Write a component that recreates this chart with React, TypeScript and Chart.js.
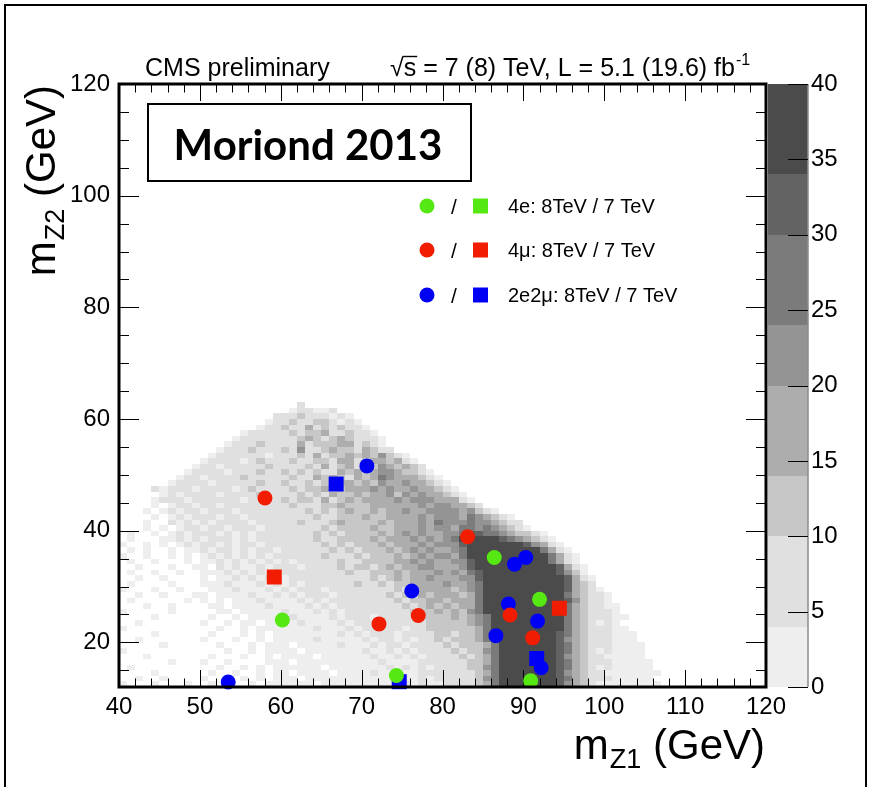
import { useEffect, useRef } from 'react';
import { Chart, registerables } from 'chart.js';

Chart.register(...registerables);

const FONT = '"Liberation Sans", Arial, Helvetica, sans-serif';

type Pt = { x: number; y: number };

// Axis ranges (GeV) and colour-scale range (events / bin)
const xRange = [40, 120];
const yRange = [12, 120];
const zRange = [0, 40];
const xTickValues = [40, 50, 60, 70, 80, 90, 100, 110, 120];
const yTickValues = [20, 40, 60, 80, 100, 120];
const zTickValues = [0, 5, 10, 15, 20, 25, 30, 35, 40];

// Contour bands of the expected-signal histogram and their grey levels
const contourEdges = [0, 4, 10, 14, 20, 24, 30, 34, 40];
const contourGrays = ['#eeeeee', '#e0e0e0', '#c7c7c7', '#adadad', '#949494', '#7b7b7b', '#636363', '#4b4b4b'];

// 1 GeV x 1 GeV bins. Each row: [lower m_Z2 edge, band index per m_Z1 bin from 40 GeV].
// Groups of ten bins (40-49, 50-59, ...) are separated by spaces; '.' = empty bin.
const binX0 = 40;
const binSize = 1;
const binRows: Array<[number, string]> = [
  [62, '.......... .......... ..2....... .......... .......... .......... ........'],
  [61, '.......... .......... .122112... .......... .......... .......... ........'],
  [60, '.......... .........2 223222121. .......... .......... .......... ........'],
  [59, '.......... ........12 2322332121 .......... .......... .......... ........'],
  [58, '.......... .......122 3224232322 1......... .......... .......... ........'],
  [57, '.......... .....12222 2323342232 21........ .......... .......... ........'],
  [56, '.......... ....122222 2234323432 221....... .......... .......... ........'],
  [55, '.......... ...1222322 2242333442 321....... .......... .......... ........'],
  [54, '.......... ..12223222 3252234332 4322...... .......... .......... ........'],
  [53, '.......... .122222212 2232423343 435321.... .......... .......... ........'],
  [52, '.......... 1222212322 2322332442 3443421... .......... .......... ........'],
  [51, '.........1 2212222232 2223242342 43543432.. .......... .......... ........'],
  [50, '........12 2221222322 3232322434 345543321. .......... .......... ........'],
  [49, '.......122 1222232222 2322434324 3465444321 .......... .......... ........'],
  [48, '......1222 2122222322 3223233443 4354454432 1......... .......... ........'],
  [47, '....212221 2222123222 2323342344 4545445443 21........ .......... ........'],
  [46, '.....12122 2212222322 2232324334 3445354544 321....... .......... ........'],
  [45, '....122212 2222212222 3233242343 4444545554 4421...... .......... ........'],
  [44, '....1.1221 2212222222 2322233433 3444444545 54432..... .......... ........'],
  [43, '...1.12122 1222122222 2223232343 3434454455 5545321... .......... ........'],
  [42, '....1.1212 2212212222 2222322333 4334444545 554654321. .......... ........'],
  [41, '...1..2121 2122221222 2232223433 3343444546 5556554322 .......... ........'],
  [40, '...1.1.122 1221222122 2222232333 3433444545 5466565432 1......... ........'],
  [39, '.1..1.1212 2212121222 2222323233 3343454544 5567766543 321....... ........'],
  [38, '.1...11212 1222121222 2222322333 3434445454 5688888765 4321...... ........'],
  [37, '1..1.1.121 2212122122 2222232323 3343444545 5578888888 75421..... ........'],
  [36, '.1.1..1.11 2122121221 2222223232 3334345454 4568888888 886421.... ........'],
  [35, '1..1..1.1. 1212121212 2222232223 2333434545 5468888888 8886421... ........'],
  [34, '.1..1...1. 1121212121 2122222322 3333445454 4557888888 8886421... ........'],
  [33, '..1...1..1 1.21211212 2212222323 3234344554 4457888888 88887421.. ........'],
  [32, '.1..1..1.. 1112121212 2222222232 2333434445 4546788888 88887531.. ........'],
  [31, '..1..1.... 1.11212121 1222222222 2323434454 4455788888 888887421. ........'],
  [30, '.1....1... 1112111212 1212222223 2232334444 5445688888 888887432. ........'],
  [29, '1...1..1.. .111211121 2122212222 2222323444 4345688888 8888874321 ........'],
  [28, '..1..1...1 1.11112112 1212221222 2223232434 4434688888 8888864322 1.......'],
  [27, '.1......1. 1.1.111211 1121212222 2222323344 3444688888 8888875322 1.......'],
  [26, '...1..1... .11.111121 1112121222 2222232343 4344688888 8888864322 11......'],
  [25, '1.....1... ..11.11111 2111212122 2222223334 3435688888 8888864322 21......'],
  [24, '....1..... .1..1.1111 1211112122 2122222333 3434568888 8888864322 211.....'],
  [23, '..1....... 1..1.11.11 1121111212 2212222233 3334568888 8888864321 21......'],
  [22, '1......... ..1..1.111 1111211121 2222212233 3333468888 8888864322 211.....'],
  [21, '....1..... .1...1.1.1 1111111212 1222122223 3233468888 8888764322 2111....'],
  [20, '..1....... 1...1..1.1 1111211111 2122121223 2333468888 8888754322 2111....'],
  [19, '.....1.... ..1...1.11 1.11111211 1212212222 3233346888 8888764322 21111...'],
  [18, '1......... ...1..1.11 11.1111111 2112121222 2323356888 8888764321 21111...'],
  [17, '...1...... .1...1..1. 1111.11111 1211212122 2232346888 8888754322 11111...'],
  [16, '......1... 1..1....11 1.11111111 1121111222 2223346888 8888764322 211111..'],
  [15, '.1........ ..1..1.1.1 11111.1111 1112121212 2223356888 8888764321 211111..'],
  [14, '....1..... .1..1..1.1 1.1111.111 1211111222 2222346888 8888754322 1111111.'],
  [13, '..1..1.... 1..1.1.1.1 11.1111111 1111211212 2222356888 8888764322 211111..'],
  [12, '1...1...1. .1.1..1.11 1111.11111 1111121211 2222346888 8888754321 1111111.'],
];

// Observed candidates (m_Z1, m_Z2) in GeV
const fourE8TeV: Pt[] = [
  { x: 86.4, y: 35.2 }, { x: 92.0, y: 27.7 }, { x: 60.2, y: 24.0 }, { x: 74.3, y: 14.05 }, { x: 90.9, y: 13.1 },
];
const fourE7TeV: Pt[] = [];
const fourMu8TeV: Pt[] = [
  { x: 58.05, y: 45.85 }, { x: 83.1, y: 38.9 }, { x: 72.15, y: 23.3 }, { x: 77.0, y: 24.8 }, { x: 88.35, y: 24.9 }, { x: 91.15, y: 20.8 },
];
const fourMu7TeV: Pt[] = [
  { x: 59.2, y: 31.7 }, { x: 94.45, y: 26.1 },
];
const twoETwoMu8TeV: Pt[] = [
  { x: 53.5, y: 12.9 }, { x: 70.65, y: 51.6 }, { x: 76.2, y: 29.2 }, { x: 88.9, y: 34.0 }, { x: 90.3, y: 35.2 },
  { x: 88.15, y: 26.85 }, { x: 86.6, y: 21.2 }, { x: 91.75, y: 23.8 }, { x: 92.2, y: 15.45 },
];
const twoETwoMu7TeV: Pt[] = [
  { x: 66.85, y: 48.35 }, { x: 74.65, y: 12.95 }, { x: 91.65, y: 17.1 },
];

const GREEN = '#55e813';
const RED = '#f21d00';
const BLUE = '#0000f4';

const legendRows = [
  { color: GREEN, label: '4e: 8TeV / 7 TeV' },
  { color: RED, label: '4\u03bc: 8TeV / 7 TeV' },
  { color: BLUE, label: '2e2\u03bc: 8TeV / 7 TeV' },
];

const CIRCLE_R = 7.5;
const SQUARE_R = 10.6; // Chart.js 'rect' side = 2 * r * SQRT1_2

function drawSubscripted(ctx: CanvasRenderingContext2D, main: string, sub: string, tail: string, big: number, small: number, x: number, y: number, drop: number) {
  ctx.font = `${big}px ${FONT}`;
  ctx.fillText(main, x, y);
  let cx = x + ctx.measureText(main).width + 1;
  ctx.font = `${small}px ${FONT}`;
  ctx.fillText(sub, cx, y + drop);
  cx += ctx.measureText(sub).width;
  ctx.font = `${big}px ${FONT}`;
  ctx.fillText(tail, cx, y);
}

function subscriptedWidth(ctx: CanvasRenderingContext2D, main: string, sub: string, tail: string, big: number, small: number) {
  ctx.font = `${big}px ${FONT}`;
  let w = ctx.measureText(main).width + ctx.measureText(tail).width + 1;
  ctx.font = `${small}px ${FONT}`;
  w += ctx.measureText(sub).width;
  return w;
}

const histPlugin = {
  id: 'zzHistogram',
  beforeDatasetsDraw(chart: any) {
    const { ctx, chartArea: a, scales } = chart;
    const xs = scales.x;
    const ys = scales.y;
    ctx.save();
    ctx.beginPath();
    ctx.rect(a.left, a.top, a.right - a.left, a.bottom - a.top);
    ctx.clip();
    for (const [yLow, row] of binRows) {
      const top = Math.round(ys.getPixelForValue(yLow + binSize));
      const bot = Math.round(ys.getPixelForValue(yLow));
      row.split(' ').forEach((grp, gi) => {
        for (let j = 0; j < grp.length; j++) {
          const c = grp[j];
          if (c === '.') continue;
          const xLow = binX0 + gi * 10 + j;
          const l = Math.round(xs.getPixelForValue(xLow));
          const r = Math.round(xs.getPixelForValue(xLow + binSize));
          ctx.fillStyle = contourGrays[Number(c) - 1];
          ctx.fillRect(l, top, r - l, bot - top);
        }
      });
    }
    // inward tick marks on all four sides
    ctx.strokeStyle = '#000';
    ctx.lineWidth = 1;
    ctx.beginPath();
    for (let v = xRange[0]; v <= xRange[1]; v += 2) {
      const len = v % 10 === 0 ? 17 : 8.5;
      const px = Math.round(xs.getPixelForValue(v)) + 0.5;
      ctx.moveTo(px, a.bottom); ctx.lineTo(px, a.bottom - len);
      ctx.moveTo(px, a.top); ctx.lineTo(px, a.top + len);
    }
    for (let v = 15; v <= yRange[1]; v += 5) {
      const len = v % 20 === 0 ? 20 : 10;
      const py = Math.round(ys.getPixelForValue(v)) + 0.5;
      ctx.moveTo(a.left, py); ctx.lineTo(a.left + len, py);
      ctx.moveTo(a.right, py); ctx.lineTo(a.right - len, py);
    }
    ctx.stroke();
    ctx.restore();
  },
  afterDatasetsDraw(chart: any) {
    const { ctx, chartArea: a, scales } = chart;
    const zs = scales.z;
    ctx.save();

    // plot frame
    ctx.strokeStyle = '#000';
    ctx.lineWidth = 3;
    ctx.strokeRect(a.left, a.top, a.right - a.left, a.bottom - a.top);

    // colour scale
    const cbL = a.right + 2;
    const cbR = a.right + 42;
    for (let i = 0; i < contourGrays.length; i++) {
      const t = Math.round(zs.getPixelForValue(contourEdges[i + 1]));
      const b = Math.round(zs.getPixelForValue(contourEdges[i]));
      ctx.fillStyle = contourGrays[i];
      ctx.fillRect(cbL, t, cbR - cbL, b - t);
    }
    ctx.strokeStyle = '#8c8c8c';
    ctx.lineWidth = 1.5;
    ctx.beginPath();
    ctx.moveTo(cbR, zs.getPixelForValue(zRange[1]));
    ctx.lineTo(cbR, zs.getPixelForValue(zRange[0]));
    ctx.stroke();
    ctx.strokeStyle = '#000';
    ctx.lineWidth = 1;
    ctx.beginPath();
    for (const v of zTickValues) {
      const py = Math.round(zs.getPixelForValue(v)) + 0.5;
      ctx.moveTo(cbR - 20, py); ctx.lineTo(cbR, py);
    }
    ctx.stroke();

    // header
    ctx.fillStyle = '#000';
    ctx.textAlign = 'left';
    ctx.textBaseline = 'alphabetic';
    ctx.font = `25px ${FONT}`;
    ctx.fillText('CMS preliminary', 145, 76);
    let hx = 390;
    const hb = 76;
    ctx.fillText('\u221a', hx, hb);
    hx += ctx.measureText('\u221a').width;
    const sW = ctx.measureText('s').width;
    ctx.fillText('s', hx, hb);
    ctx.lineWidth = 1.4;
    ctx.beginPath();
    ctx.moveTo(hx - 1, hb - 19.5);
    ctx.lineTo(hx + sW + 1, hb - 19.5);
    ctx.stroke();
    hx += sW;
    const rest = ' = 7 (8) TeV, L = 5.1 (19.6) fb';
    ctx.fillText(rest, hx, hb);
    hx += ctx.measureText(rest).width;
    ctx.font = `16px ${FONT}`;
    ctx.fillText('-1', hx + 1, hb - 11);

    // label box
    ctx.fillStyle = '#fff';
    ctx.fillRect(148, 104, 323, 77);
    ctx.lineWidth = 2;
    ctx.strokeRect(148, 104, 323, 77);
    ctx.fillStyle = '#000';
    ctx.textAlign = 'center';
    ctx.font = `bold 42px Lato, "Open Sans", ${FONT}`;
    ctx.fillText('Moriond 2013', 308, 160);

    // legend
    const rowsY = [206, 250, 295];
    legendRows.forEach((r, i) => {
      const cy = rowsY[i];
      ctx.fillStyle = r.color;
      ctx.beginPath();
      ctx.arc(427, cy, CIRCLE_R, 0, Math.PI * 2);
      ctx.fill();
      ctx.fillRect(473, cy - 7.5, 15, 15);
      ctx.fillStyle = '#000';
      ctx.font = `21px ${FONT}`;
      ctx.textAlign = 'center';
      ctx.fillText('/', 454, cy + 8);
      ctx.textAlign = 'left';
      ctx.font = `20px ${FONT}`;
      ctx.fillText(r.label, 508, cy + 7);
    });

    // axis titles
    ctx.fillStyle = '#000';
    ctx.textAlign = 'left';
    const big = 42;
    const small = 27;
    const wx = subscriptedWidth(ctx, 'm', 'Z1', ' (GeV)', big, small);
    drawSubscripted(ctx, 'm', 'Z1', ' (GeV)', big, small, 765 - wx, 759, 9);
    const wy = subscriptedWidth(ctx, 'm', 'Z2', ' (GeV)', big, small);
    ctx.save();
    ctx.translate(55, 85 + wy);
    ctx.rotate(-Math.PI / 2);
    drawSubscripted(ctx, 'm', 'Z2', ' (GeV)', big, small, 0, 0, 9);
    ctx.restore();

    // outer figure border
    ctx.strokeStyle = '#000';
    ctx.lineWidth = 2;
    ctx.beginPath();
    ctx.moveTo(5, 787); ctx.lineTo(5, 5); ctx.lineTo(866, 5); ctx.lineTo(866, 787);
    ctx.stroke();

    ctx.restore();
  },
};

const tickFont = { family: FONT, size: 24 };

export default function App() {
  const canvasRef = useRef<HTMLCanvasElement | null>(null);

  useEffect(() => {
    const canvas = canvasRef.current;
    if (!canvas) return;
    const marker = (data: Pt[], color: string, style: string, r: number) => ({
      data,
      pointStyle: style,
      pointRadius: r,
      pointHoverRadius: r,
      backgroundColor: color,
      borderWidth: 0,
      clip: false as any,
    });
    const chart = new Chart(canvas, {
      type: 'scatter',
      data: {
        datasets: [
          marker(fourE8TeV, GREEN, 'circle', CIRCLE_R),
          marker(fourE7TeV, GREEN, 'rect', SQUARE_R),
          marker(fourMu8TeV, RED, 'circle', CIRCLE_R),
          marker(fourMu7TeV, RED, 'rect', SQUARE_R),
          marker(twoETwoMu8TeV, BLUE, 'circle', CIRCLE_R),
          marker(twoETwoMu7TeV, BLUE, 'rect', SQUARE_R),
        ] as any,
      },
      options: {
        responsive: false,
        animation: false,
        devicePixelRatio: 1,
        layout: { padding: { top: 84, left: 0, right: 0, bottom: 0 } },
        plugins: { legend: { display: false }, tooltip: { enabled: false } },
        scales: {
          x: {
            type: 'linear',
            position: 'bottom',
            min: xRange[0],
            max: xRange[1],
            grid: { display: false, drawTicks: false },
            border: { display: false },
            ticks: { font: tickFont, color: '#000', padding: 6, maxRotation: 0, autoSkip: false },
            afterBuildTicks: (s: any) => { s.ticks = xTickValues.map((v) => ({ value: v })); },
            afterFit: (s: any) => { s.height = 100; },
          },
          y: {
            type: 'linear',
            position: 'left',
            min: yRange[0],
            max: yRange[1],
            grid: { display: false, drawTicks: false },
            border: { display: false },
            ticks: { font: tickFont, color: '#000', padding: 9, autoSkip: false },
            afterBuildTicks: (s: any) => { s.ticks = yTickValues.map((v) => ({ value: v })); },
            afterFit: (s: any) => { s.width = 119; },
          },
          z: {
            type: 'linear',
            axis: 'y',
            position: 'right',
            min: zRange[0],
            max: zRange[1],
            grid: { display: false, drawTicks: false },
            border: { display: false },
            ticks: { font: tickFont, color: '#000', padding: 45, autoSkip: false },
            afterBuildTicks: (s: any) => { s.ticks = zTickValues.map((v) => ({ value: v })); },
            afterFit: (s: any) => { s.width = 107; },
          },
        } as any,
      },
      plugins: [histPlugin],
    });
    return () => chart.destroy();
  }, []);

  return (
    <canvas
      ref={canvasRef}
      width={873}
      height={787}
      style={{ position: 'absolute', left: 0, top: 0, width: 873, height: 787 }}
    />
  );
}
